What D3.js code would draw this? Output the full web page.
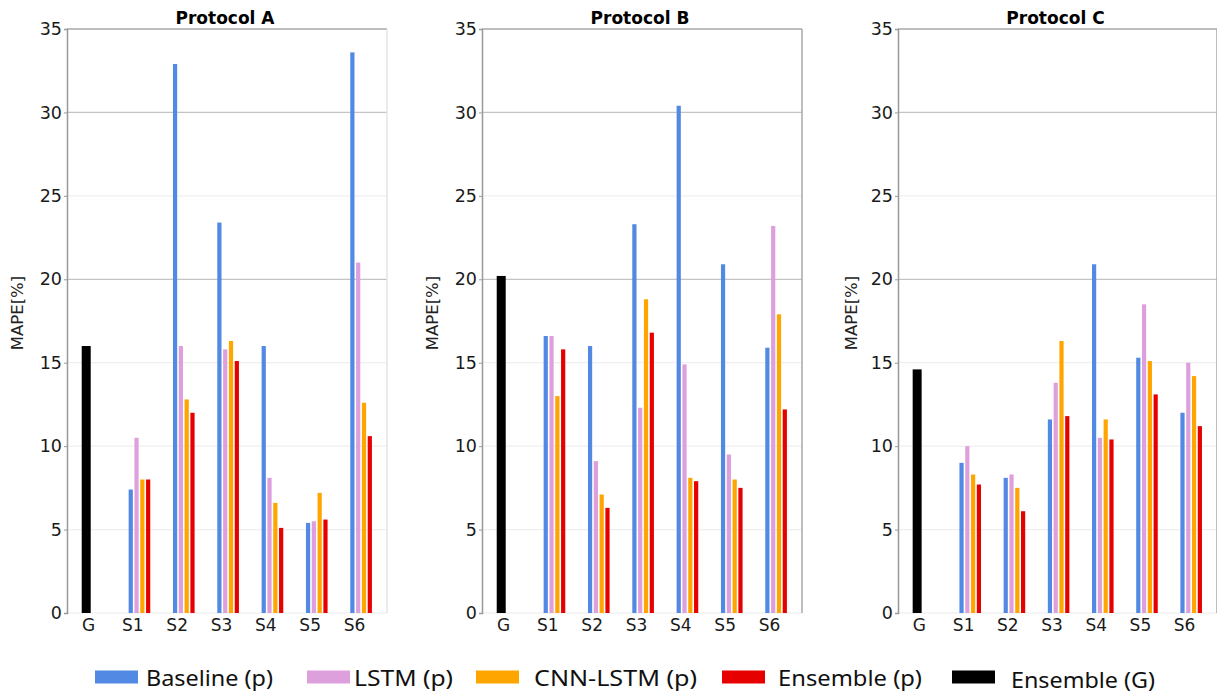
<!DOCTYPE html>
<html>
<head>
<meta charset="utf-8">
<script src="https://cdn.jsdelivr.net/npm/d3@7"></script>
<style>
	body { margin: 0; background: #fff; }
	text { font-family: 'DejaVu Sans', sans-serif; fill: #222; }
</style>
</head>
<body>
<div id="chart"></div>
<script>
/*globals d3*/

// ---- data ----
const categories = ['G', 'S1', 'S2', 'S3', 'S4', 'S5', 'S6'];
const protocols = ['Protocol A', 'Protocol B', 'Protocol C'];
const seriesNames = ['Baseline (p)', 'LSTM (p)', 'CNN-LSTM (p)', 'Ensemble (p)', 'Ensemble (G)'];
const yTicks = [0, 5, 10, 15, 20, 25, 30, 35];

// values for S1..S6
const baselineA = [7.4, 32.9, 23.4, 16.0, 5.4, 33.6];
const lstmA = [10.5, 16.0, 15.8, 8.1, 5.5, 21.0];
const cnnLstmA = [8.0, 12.8, 16.3, 6.6, 7.2, 12.6];
const ensembleA = [8.0, 12.0, 15.1, 5.1, 5.6, 10.6];

const baselineB = [16.6, 16.0, 23.3, 30.4, 20.9, 15.9];
const lstmB = [16.6, 9.1, 12.3, 14.9, 9.5, 23.2];
const cnnLstmB = [13.0, 7.1, 18.8, 8.1, 8.0, 17.9];
const ensembleB = [15.8, 6.3, 16.8, 7.9, 7.5, 12.2];

const baselineC = [9.0, 8.1, 11.6, 20.9, 15.3, 12.0];
const lstmC = [10.0, 8.3, 13.8, 10.5, 18.5, 15.0];
const cnnLstmC = [8.3, 7.5, 16.3, 11.6, 15.1, 14.2];
const ensembleC = [7.7, 6.1, 11.8, 10.4, 13.1, 11.2];

// ensemble on the G category, one per protocol
const ensembleG = [16.0, 20.2, 14.6];

const colors = ['#5189e3', '#dda0dd', '#ffa500', '#e60000', '#000000'];

var drawChart = function() {
	'use strict';
	const width = 1217;
	const height = 695;
	const panelLeft = [67, 482, 898];
	const panelWidth = [320, 320, 319];
	const top = 29;
	const bottom = 613;
	const gridDark = '#c4c4c4';
	const gridLight = '#efefef';
	let svg;

	const panelData = [
		[baselineA, lstmA, cnnLstmA, ensembleA],
		[baselineB, lstmB, cnnLstmB, ensembleB],
		[baselineC, lstmC, cnnLstmC, ensembleC]
	];

	function drawSvg() {
		d3.selectAll('#chart svg').remove();
		svg = d3.select('#chart').append('svg')
			.attr('width', width)
			.attr('height', height);
	}

	function drawPanel(p) {
		let w = panelWidth[p];
		let g = svg.append('g')
			.attr('transform', 'translate(' + panelLeft[p] + ',0)');

		let x = d3.scaleLinear().domain([-0.474, 6.745]).range([0, w]);
		let y = d3.scaleLinear().domain([0, 35]).range([bottom, top]);
		let unit = x(1) - x(0);

		// grid
		g.selectAll('.grid').data(yTicks.filter(function(t) { return t > 0 && t < 35; }))
			.enter().append('line')
			.attr('x1', 0).attr('x2', w)
			.attr('y1', function(d) { return y(d); })
			.attr('y2', function(d) { return y(d); })
			.style('stroke', function(d) { return (d === 20 || d === 30) ? gridDark : gridLight; })
			.style('stroke-width', 1.2);

		// frame
		g.append('line').attr('x1', 0).attr('x2', w).attr('y1', top).attr('y2', top)
			.style('stroke', '#a8a8a8').style('stroke-width', 1.5);
		g.append('line').attr('x1', 0).attr('x2', w).attr('y1', bottom).attr('y2', bottom)
			.style('stroke', '#ececec').style('stroke-width', 1.2);
		g.append('line').attr('x1', w).attr('x2', w).attr('y1', top).attr('y2', bottom)
			.style('stroke', p === 0 ? '#e4e4e4' : '#a8a8a8').style('stroke-width', 1.5);

		// y axis
		let yAxis = d3.axisLeft(y).tickValues(yTicks).tickSize(3).tickPadding(2);
		let ya = g.append('g').call(yAxis);
		ya.select('.domain').style('stroke', '#999').style('stroke-width', 1.5);
		ya.selectAll('.tick line').style('stroke', '#999');
		ya.selectAll('.tick text').style('font-size', '17.5px').style('fill', '#1a1a1a');

		// x axis labels
		let xa = g.append('g').attr('transform', 'translate(0,' + bottom + ')')
			.call(d3.axisBottom(x).tickValues(d3.range(categories.length))
				.tickFormat(function(i) { return categories[i]; }).tickSize(0).tickPadding(6));
		xa.select('.domain').remove();
		xa.selectAll('.tick text').style('font-size', '17px').style('fill', '#1a1a1a');

		// G bar
		g.append('rect')
			.attr('x', x(0) - 0.142 * unit)
			.attr('width', 0.203 * unit)
			.attr('y', y(ensembleG[p]))
			.attr('height', y(0) - y(ensembleG[p]))
			.style('fill', colors[4]);

		// grouped bars for S1..S6
		let slot = 0.131;
		panelData[p].forEach(function(vals, k) {
			g.selectAll('.bar' + k).data(vals).enter().append('rect')
				.attr('x', function(d, i) { return x(i + 1) + (-0.1015 + slot * k) * unit + 0.8; })
				.attr('width', slot * unit - 1.6)
				.attr('y', function(d) { return y(d); })
				.attr('height', function(d) { return y(0) - y(d); })
				.style('fill', colors[k]);
		});

		// title
		g.append('text')
			.text(protocols[p])
			.attr('x', w / 2 - 2).attr('y', 24)
			.style('text-anchor', 'middle')
			.style('font-weight', 'bold')
			.style('font-size', '17px')
			.style('fill', '#000');

		// y label
		g.append('text')
			.text('MAPE[%]')
			.attr('transform', 'translate(' + (p === 2 ? -41 : -44) + ',313) rotate(-90)')
			.style('text-anchor', 'middle')
			.style('font-size', '16.5px');
	}

	function drawLegend() {
		// swatch left, text left, text width
		const layout = [
			[95, 146, 127],
			[307, 354, 99],
			[476, 534, 163],
			[722, 778, 144],
			[952, 1011, 144]
		];
		let lg = svg.append('g');
		seriesNames.forEach(function(name, i) {
			let l = layout[i];
			lg.append('rect')
				.attr('x', l[0]).attr('y', 670.5)
				.attr('width', 43).attr('height', 13)
				.style('fill', colors[i]);
			lg.append('text')
				.text(name)
				.attr('x', l[1]).attr('y', i === 4 ? 688 : 686)
				.attr('textLength', l[2])
				.attr('lengthAdjust', 'spacingAndGlyphs')
				.style('font-family', 'Noto Sans')
				.style('font-size', '22px')
				.style('fill', '#111');
		});
	}

	drawSvg();
	protocols.forEach(function(d, p) { drawPanel(p); });
	drawLegend();
};

drawChart();
</script>
</body>
</html>
